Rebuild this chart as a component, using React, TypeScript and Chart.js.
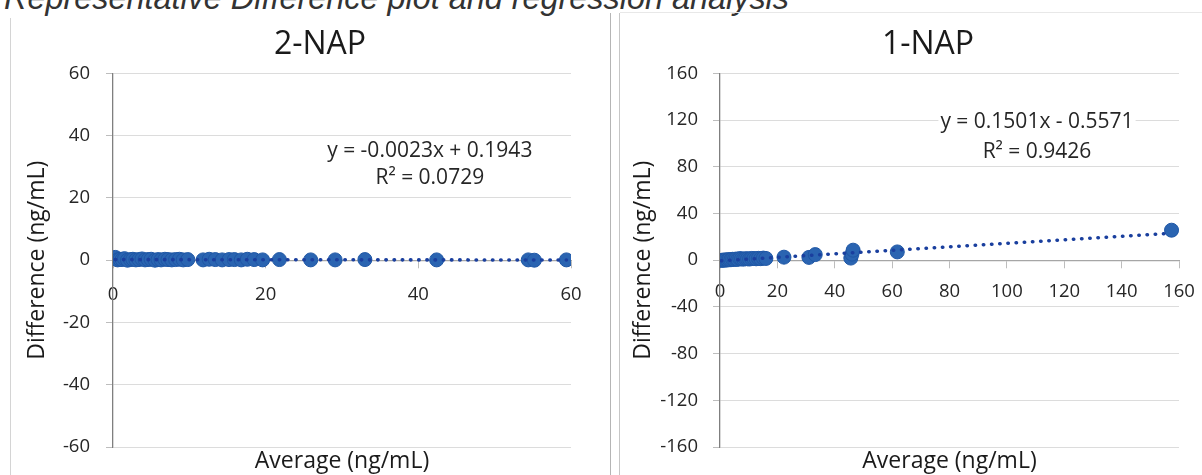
import React, { useEffect, useRef } from "react";
import { Chart, registerables } from "chart.js";

Chart.register(...registerables);

const FONT = "'Open Sans', 'DejaVu Sans', sans-serif";
const TICK_COLOR = "#262626";
const TITLE_COLOR = "#1a1a1a";
const POINT_COLOR = "#2a64b1";
const POINT_EDGE = "#1f57a5";
const TREND_COLOR = "#1a3f9e";

// ---------- 2-NAP ----------
const nap2Average = [
  0.3, 0.6, 0.9, 1.2, 1.5, 1.9, 2.3, 2.6, 3.0, 3.4, 3.8, 4.2, 4.6, 5.0, 5.5, 5.9, 6.3, 6.8,
  7.2, 7.7, 8.2, 8.7, 9.2, 9.8, 11.8, 12.6, 13.4, 14.3, 15.2, 15.9, 16.8, 17.6, 18.5, 19.6,
  21.8, 25.9, 29.1, 33.0, 42.4, 54.4, 55.2, 59.4,
];
const nap2Difference = [
  0.9, 0.1, 0.3, 0.2, 0.5, 0.0, 0.2, 0.3, 0.1, 0.2, 0.4, 0.1, 0.2, 0.3, 0.0, 0.2, 0.1, 0.3,
  0.2, 0.1, 0.2, 0.3, 0.1, 0.2, 0.1, 0.3, 0.2, 0.1, 0.2, 0.2, 0.1, 0.3, 0.2, 0.1,
  0.2, 0.1, 0.1, 0.2, 0.1, 0.1, 0.0, 0.1,
];
const nap2TrendAverage = [0.3, 59.4];
const nap2TrendDifference = [0.19, 0.06];
const nap2XRange = [0, 60];
const nap2XStep = 20;
const nap2YRange = [-60, 60];
const nap2YStep = 20;
const nap2Equation = ["y = -0.0023x + 0.1943", "R² = 0.0729"];

// ---------- 1-NAP ----------
const nap1Average = [
  0.5, 1.0, 1.6, 2.1, 2.7, 3.2, 3.8, 4.4, 5.0, 5.6, 6.2, 6.9, 7.5, 8.2, 8.9, 9.6, 10.3, 11.0,
  11.8, 12.6, 13.4, 14.2, 15.1, 16.0, 22.3, 31.0, 33.2, 45.6, 46.0, 46.4, 61.8, 157.4,
];
const nap1Difference = [
  -0.2, 0.1, 0.0, 0.3, 0.2, 0.5, 0.4, 0.8, 0.6, 1.0, 0.7, 1.4, 1.1, 0.9, 1.3, 1.2, 1.0, 1.5,
  1.4, 1.2, 1.6, 1.3, 1.8, 1.5, 2.6, 2.4, 4.8, 1.8, 5.2, 8.6, 7.1, 25.7,
];
const nap1TrendAverage = [0.5, 157.4];
const nap1TrendDifference = [-0.48, 23.07];
const nap1XRange = [0, 160];
const nap1XStep = 20;
const nap1YRange = [-160, 160];
const nap1YStep = 40;
const nap1Equation = ["y = 0.1501x - 0.5571", "R² = 0.9426"];

const X_TITLE = "Average (ng/mL)";
const Y_TITLE = "Difference (ng/mL)";

type PanelOpts = {
  title: string;
  avg: number[];
  diff: number[];
  trendX: number[];
  trendY: number[];
  xRange: number[];
  xStep: number;
  yRange: number[];
  yStep: number;
  eq: string[];
  eqX: number;
  eqY: number[];
  yAxisWidth: number;
  yTitlePad: number;
  yTickPad: number;
  xTickPad: number;
  leftPad: number;
  rightPad: number;
};

function makeConfig(p: PanelOpts): any {
  const eqPlugin = {
    id: "eqText",
    afterDraw(chart: any) {
      const ctx = chart.ctx;
      const xs = chart.scales.x;
      const ys = chart.scales.y;
      ctx.save();
      ctx.font = `21px ${FONT}`;
      ctx.textAlign = "center";
      ctx.textBaseline = "middle";
      p.eq.forEach((line, i) => {
        const cx = xs.getPixelForValue(p.eqX);
        const cy = ys.getPixelForValue(p.eqY[i]);
        const w = ctx.measureText(line).width;
        ctx.fillStyle = "#ffffff";
        ctx.fillRect(cx - w / 2 - 2, cy - 12, w + 4, 24);
        ctx.fillStyle = TICK_COLOR;
        ctx.fillText(line, cx, cy);
      });
      ctx.restore();
    },
  };

  return {
    type: "scatter",
    data: {
      datasets: [
        {
          label: "trend",
          data: p.trendX.map((x, i) => ({ x, y: p.trendY[i] })),
          showLine: true,
          borderColor: TREND_COLOR,
          borderWidth: 3.6,
          borderDash: [0.4, 7.8],
          borderCapStyle: "round",
          pointRadius: 0,
          fill: false,
        },
        {
          label: p.title,
          data: p.avg.map((x, i) => ({ x, y: p.diff[i] })),
          backgroundColor: POINT_COLOR,
          borderColor: POINT_EDGE,
          borderWidth: 1,
          pointRadius: 7,
        },
      ],
    },
    options: {
      animation: false,
      responsive: true,
      maintainAspectRatio: false,
      layout: { padding: { left: p.leftPad, right: p.rightPad, top: 0, bottom: 0 } },
      plugins: {
        legend: { display: false },
        tooltip: { enabled: false },
        title: {
          display: true,
          text: p.title,
          color: TITLE_COLOR,
          font: { family: FONT, size: 32, weight: "normal" },
          padding: { top: 26, bottom: 9 },
        },
      },
      scales: {
        x: {
          type: "linear",
          position: { y: 0 },
          min: p.xRange[0],
          max: p.xRange[1],
          ticks: {
            stepSize: p.xStep,
            color: TICK_COLOR,
            font: { family: FONT, size: 18.5 },
            padding: p.xTickPad,
            maxRotation: 0,
            autoSkip: false,
          },
          grid: { drawOnChartArea: false, drawTicks: true, tickLength: 7, tickColor: "#bdbdbd" },
          border: { color: "#a6a6a6", width: 1.3 },
          afterFit: (s: any) => {
            s.height = 0;
            s._computeLabelArea = () => undefined;
          },
        },
        x2: {
          type: "linear",
          position: "bottom",
          min: p.xRange[0],
          max: p.xRange[1],
          ticks: { display: false },
          grid: { display: false },
          border: { display: false },
          title: {
            display: true,
            text: X_TITLE,
            color: TITLE_COLOR,
            font: { family: FONT, size: 23 },
            padding: { top: 0, bottom: 0 },
          },
          afterFit: (s: any) => {
            s.height = 28;
          },
        },
        y: {
          type: "linear",
          position: "left",
          min: p.yRange[0],
          max: p.yRange[1],
          ticks: {
            stepSize: p.yStep,
            color: TICK_COLOR,
            font: { family: FONT, size: 18.5 },
            padding: p.yTickPad,
          },
          grid: { color: "#dcdcdc", lineWidth: 1, tickLength: 7, tickColor: "#bdbdbd" },
          border: { color: "#7f7f7f", width: 1.3 },
          title: {
            display: true,
            text: Y_TITLE,
            color: TITLE_COLOR,
            font: { family: FONT, size: 23 },
            padding: { top: p.yTitlePad, bottom: 0 },
          },
          afterFit: (s: any) => {
            s.width = p.yAxisWidth;
            // let tick labels extend past the (narrowed) axis box
            s._computeLabelArea = () => undefined;
          },
        },
      },
    },
    plugins: [eqPlugin],
  };
}

function Panel({ opts, style }: { opts: PanelOpts; style: React.CSSProperties }) {
  const ref = useRef<HTMLCanvasElement | null>(null);
  useEffect(() => {
    if (!ref.current) return;
    const chart = new Chart(ref.current, makeConfig(opts));
    return () => chart.destroy();
  }, [opts]);
  return (
    <div style={{ position: "absolute", ...style }}>
      <canvas ref={ref} />
    </div>
  );
}

const leftOpts: PanelOpts = {
  title: "2-NAP",
  avg: nap2Average,
  diff: nap2Difference,
  trendX: nap2TrendAverage,
  trendY: nap2TrendDifference,
  xRange: nap2XRange,
  xStep: nap2XStep,
  yRange: nap2YRange,
  yStep: nap2YStep,
  eq: nap2Equation,
  eqX: 41.5,
  eqY: [35.0, 26.3],
  yAxisWidth: 44,
  yTitlePad: -45.8,
  yTickPad: 16,
  xTickPad: 16,
  leftPad: 69,
  rightPad: 59,
};

const rightOpts: PanelOpts = {
  title: "1-NAP",
  avg: nap1Average,
  diff: nap1Difference,
  trendX: nap1TrendAverage,
  trendY: nap1TrendDifference,
  xRange: nap1XRange,
  xStep: nap1XStep,
  yRange: nap1YRange,
  yStep: nap1YStep,
  eq: nap1Equation,
  eqX: 110.5,
  eqY: [118, 93],
  yAxisWidth: 43,
  yTitlePad: -47.8,
  yTickPad: 15,
  xTickPad: 13,
  leftPad: 57,
  rightPad: 57,
};

export default function App() {
  return (
    <div
      style={{
        position: "absolute",
        left: 0,
        top: 0,
        width: 1202,
        height: 475,
        overflow: "hidden",
        background: "#ffffff",
      }}
    >
      <div
        style={{
          position: "absolute",
          left: 4,
          top: -18,
          fontFamily: "'Liberation Sans', Arial, sans-serif",
          fontStyle: "italic",
          fontSize: 32.4,
          lineHeight: 1,
          color: "#333333",
          whiteSpace: "nowrap",
        }}
      >
        Representative Difference plot and regression analysis
      </div>
      <div style={{ position: "absolute", left: 10, top: 18, width: 1, height: 457, background: "#d4d4d4" }} />
      <div style={{ position: "absolute", left: 610, top: 13, width: 1, height: 462, background: "#b5b5b5" }} />
      <div style={{ position: "absolute", left: 619, top: 13, width: 1, height: 462, background: "#c6c6c6" }} />
      <div style={{ position: "absolute", left: 620, top: 12, width: 582, height: 1, background: "#e8e8e8" }} />
      <Panel opts={leftOpts} style={{ left: 0, top: 0, width: 630, height: 475 }} />
      <Panel opts={rightOpts} style={{ left: 620, top: 0, width: 616, height: 475 }} />
    </div>
  );
}
